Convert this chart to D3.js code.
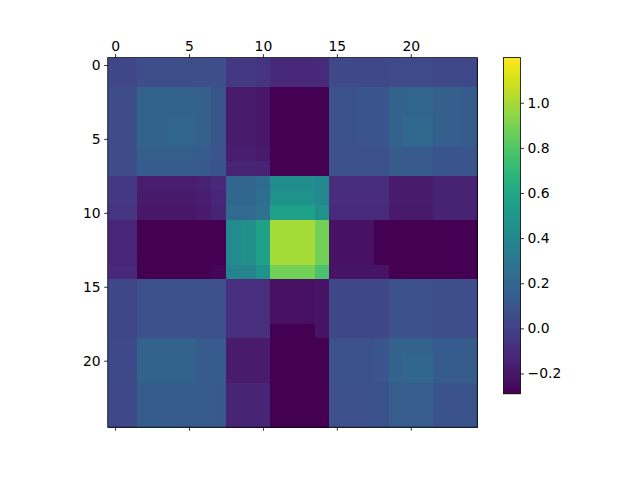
<!DOCTYPE html>
<html>
<head>
<meta charset="utf-8">
<script src="https://cdn.jsdelivr.net/npm/d3@7"></script>
<style>
  html, body { margin: 0; padding: 0; background: #ffffff; }
  svg { display: block; }
  text { font-family: "DejaVu Sans", sans-serif; }
</style>
</head>
<body>
<svg id="chart" width="640" height="480"></svg>
<script>
// ---- data ----
const xTicks = [0, 5, 10, 15, 20];
const yTicks = [0, 5, 10, 15, 20];
const cbTicks = [-0.2, 0.0, 0.2, 0.4, 0.6, 0.8, 1.0];
const colorMin = -0.29;
const colorMax = 1.20;

const matrix = [
  [0.03,0.03,0.06,0.06,0.06,0.06,0.06,0.06,-0.05,-0.05,-0.06,-0.12,-0.12,-0.12,-0.11,0.035,0.035,0.035,0.035,0.045,0.045,0.045,0.035,0.035,0.035],
  [0.03,0.03,0.06,0.06,0.06,0.06,0.06,0.06,-0.05,-0.05,-0.06,-0.12,-0.12,-0.12,-0.11,0.035,0.035,0.035,0.035,0.045,0.045,0.045,0.035,0.035,0.035],
  [0.05,0.05,0.17,0.17,0.17,0.17,0.155,0.10,-0.18,-0.18,-0.20,-0.30,-0.30,-0.30,-0.30,0.08,0.08,0.10,0.10,0.17,0.19,0.19,0.155,0.155,0.135],
  [0.05,0.05,0.17,0.18,0.17,0.17,0.155,0.10,-0.18,-0.18,-0.20,-0.30,-0.30,-0.30,-0.30,0.08,0.08,0.10,0.10,0.17,0.19,0.19,0.155,0.155,0.135],
  [0.05,0.05,0.17,0.17,0.19,0.19,0.155,0.10,-0.18,-0.18,-0.20,-0.30,-0.30,-0.30,-0.30,0.08,0.08,0.10,0.10,0.17,0.21,0.21,0.155,0.155,0.135],
  [0.05,0.05,0.17,0.17,0.19,0.19,0.155,0.10,-0.18,-0.18,-0.20,-0.30,-0.30,-0.30,-0.30,0.08,0.08,0.10,0.10,0.17,0.21,0.21,0.155,0.155,0.135],
  [0.05,0.05,0.15,0.15,0.15,0.15,0.14,0.10,-0.17,-0.17,-0.19,-0.30,-0.30,-0.30,-0.30,0.075,0.075,0.075,0.075,0.13,0.13,0.13,0.10,0.10,0.10],
  [0.05,0.05,0.135,0.135,0.135,0.135,0.12,0.09,-0.14,-0.14,-0.15,-0.30,-0.30,-0.30,-0.285,0.075,0.075,0.075,0.075,0.13,0.13,0.13,0.10,0.10,0.10],
  [-0.05,-0.05,-0.17,-0.17,-0.17,-0.17,-0.155,-0.125,0.19,0.19,0.22,0.44,0.44,0.44,0.41,-0.10,-0.10,-0.10,-0.10,-0.18,-0.18,-0.18,-0.15,-0.15,-0.15],
  [-0.05,-0.05,-0.19,-0.19,-0.19,-0.19,-0.17,-0.135,0.20,0.20,0.24,0.47,0.47,0.47,0.41,-0.10,-0.10,-0.10,-0.10,-0.18,-0.18,-0.18,-0.15,-0.15,-0.15],
  [-0.06,-0.06,-0.20,-0.20,-0.20,-0.20,-0.18,-0.14,0.22,0.22,0.26,0.55,0.55,0.55,0.46,-0.11,-0.11,-0.11,-0.11,-0.19,-0.19,-0.19,-0.15,-0.15,-0.15],
  [-0.135,-0.135,-0.30,-0.30,-0.30,-0.30,-0.30,-0.30,0.42,0.45,0.55,1.0,1.0,1.0,0.88,-0.225,-0.225,-0.225,-0.30,-0.30,-0.30,-0.30,-0.30,-0.30,-0.30],
  [-0.135,-0.135,-0.30,-0.30,-0.30,-0.30,-0.30,-0.30,0.42,0.45,0.55,1.0,1.0,1.0,0.88,-0.225,-0.225,-0.225,-0.30,-0.30,-0.30,-0.30,-0.30,-0.30,-0.30],
  [-0.135,-0.135,-0.30,-0.30,-0.30,-0.30,-0.30,-0.30,0.42,0.45,0.55,1.0,1.0,1.0,0.88,-0.225,-0.225,-0.225,-0.30,-0.30,-0.30,-0.30,-0.30,-0.30,-0.30],
  [-0.12,-0.12,-0.30,-0.30,-0.30,-0.30,-0.30,-0.27,0.37,0.38,0.48,0.88,0.88,0.88,0.77,-0.22,-0.22,-0.22,-0.22,-0.30,-0.30,-0.30,-0.30,-0.30,-0.30],
  [0.03,0.03,0.075,0.075,0.075,0.075,0.075,0.075,-0.09,-0.09,-0.09,-0.23,-0.23,-0.23,-0.22,0.03,0.03,0.03,0.03,0.075,0.075,0.075,0.065,0.065,0.065],
  [0.03,0.03,0.075,0.075,0.075,0.075,0.075,0.075,-0.09,-0.09,-0.09,-0.23,-0.23,-0.23,-0.22,0.03,0.03,0.03,0.03,0.075,0.075,0.075,0.065,0.065,0.065],
  [0.03,0.03,0.075,0.075,0.075,0.075,0.075,0.075,-0.09,-0.09,-0.09,-0.23,-0.23,-0.23,-0.22,0.03,0.03,0.03,0.03,0.075,0.075,0.075,0.065,0.065,0.065],
  [0.03,0.03,0.075,0.075,0.075,0.075,0.075,0.075,-0.09,-0.09,-0.09,-0.30,-0.30,-0.30,-0.22,0.03,0.03,0.03,0.03,0.075,0.075,0.075,0.065,0.065,0.065],
  [0.04,0.04,0.175,0.175,0.175,0.175,0.13,0.13,-0.18,-0.18,-0.18,-0.30,-0.30,-0.30,-0.30,0.08,0.08,0.08,0.10,0.165,0.17,0.17,0.14,0.14,0.14],
  [0.04,0.04,0.175,0.175,0.175,0.175,0.13,0.13,-0.18,-0.18,-0.18,-0.30,-0.30,-0.30,-0.30,0.08,0.08,0.08,0.10,0.17,0.20,0.20,0.14,0.14,0.14],
  [0.04,0.04,0.175,0.175,0.175,0.175,0.13,0.13,-0.18,-0.18,-0.18,-0.30,-0.30,-0.30,-0.30,0.08,0.08,0.08,0.10,0.17,0.20,0.20,0.14,0.14,0.14],
  [0.035,0.035,0.14,0.14,0.14,0.14,0.13,0.12,-0.14,-0.14,-0.14,-0.30,-0.30,-0.30,-0.30,0.075,0.075,0.075,0.08,0.145,0.145,0.145,0.09,0.09,0.09],
  [0.035,0.035,0.14,0.14,0.14,0.14,0.13,0.12,-0.14,-0.14,-0.14,-0.30,-0.30,-0.30,-0.30,0.075,0.075,0.075,0.08,0.145,0.145,0.145,0.09,0.09,0.09],
  [0.035,0.035,0.14,0.14,0.14,0.14,0.13,0.12,-0.14,-0.14,-0.14,-0.30,-0.30,-0.30,-0.30,0.075,0.075,0.075,0.08,0.145,0.145,0.145,0.09,0.09,0.09]
];

(function () {
  const svg = d3.select("#chart");
  svg.append("rect").attr("width", 640).attr("height", 480).attr("fill", "#ffffff");

  const nRows = matrix.length, nCols = matrix[0].length;
  const axLeft = 107.7, axRight = 477.3, axTop = 57.6, axBottom = 427.2;
  const x = d3.scaleLinear().domain([-0.5, nCols - 0.5]).range([axLeft, axRight]);
  const y = d3.scaleLinear().domain([-0.5, nRows - 0.5]).range([axTop, axBottom]);
  const color = d3.scaleSequential(d3.interpolateViridis).domain([colorMin, colorMax]).clamp(true);

  const cells = [];
  matrix.forEach((row, i) => row.forEach((v, j) => cells.push({ i, j, v })));

  svg.append("g").selectAll("rect").data(cells).join("rect")
    .attr("x", d => x(d.j - 0.5))
    .attr("y", d => y(d.i - 0.5))
    .attr("width", d => x(d.j + 0.5) - x(d.j - 0.5) + 0.4)
    .attr("height", d => y(d.i + 0.5) - y(d.i - 0.5) + 0.4)
    .attr("fill", d => color(d.v))
    .attr("shape-rendering", "crispEdges");

  svg.append("rect")
    .attr("x", axLeft).attr("y", axTop)
    .attr("width", axRight - axLeft).attr("height", axBottom - axTop)
    .attr("fill", "none").attr("stroke", "#000").attr("stroke-width", 0.8);

  const fontSize = "13.9px";
  function styleAxis(g) {
    g.select(".domain").remove();
    g.selectAll(".tick line").attr("stroke", "#000").attr("stroke-width", 0.8);
    g.selectAll(".tick text").attr("fill", "#000").style("font-size", fontSize)
      .style("font-family", "'DejaVu Sans', sans-serif");
  }

  svg.append("g").attr("transform", `translate(0,${axTop})`)
    .call(d3.axisTop(x).tickValues(xTicks).tickSize(3.5).tickPadding(3.5).tickFormat(d3.format("d")))
    .call(styleAxis);

  svg.append("g").attr("transform", `translate(0,${axBottom})`)
    .call(d3.axisBottom(x).tickValues(xTicks).tickSize(3.5).tickFormat(""))
    .call(styleAxis);

  svg.append("g").attr("transform", `translate(${axLeft},0)`)
    .call(d3.axisLeft(y).tickValues(yTicks).tickSize(3.5).tickPadding(3.5).tickFormat(d3.format("d")))
    .call(styleAxis);

  // colorbar
  const cbLeft = 503.5, cbRight = 520.5, cbTop = 57.6, cbBottom = 393.8;
  const cbScale = d3.scaleLinear().domain([colorMin, colorMax]).range([cbBottom, cbTop]);
  const defs = svg.append("defs");
  const grad = defs.append("linearGradient").attr("id", "cbgrad")
    .attr("x1", "0").attr("y1", "1").attr("x2", "0").attr("y2", "0");
  d3.range(0, 1.0001, 0.02).forEach(t => {
    grad.append("stop").attr("offset", t).attr("stop-color", d3.interpolateViridis(t));
  });
  svg.append("rect")
    .attr("x", cbLeft).attr("y", cbTop)
    .attr("width", cbRight - cbLeft).attr("height", cbBottom - cbTop)
    .attr("fill", "url(#cbgrad)");
  svg.append("rect")
    .attr("x", cbLeft).attr("y", cbTop)
    .attr("width", cbRight - cbLeft).attr("height", cbBottom - cbTop)
    .attr("fill", "none").attr("stroke", "#000").attr("stroke-width", 0.8);

  svg.append("g").attr("transform", `translate(${cbRight},0)`)
    .call(d3.axisRight(cbScale).tickValues(cbTicks).tickSize(3.5).tickPadding(3.5).tickFormat(d3.format(".1f")))
    .call(styleAxis);
})();
</script>
</body>
</html>
